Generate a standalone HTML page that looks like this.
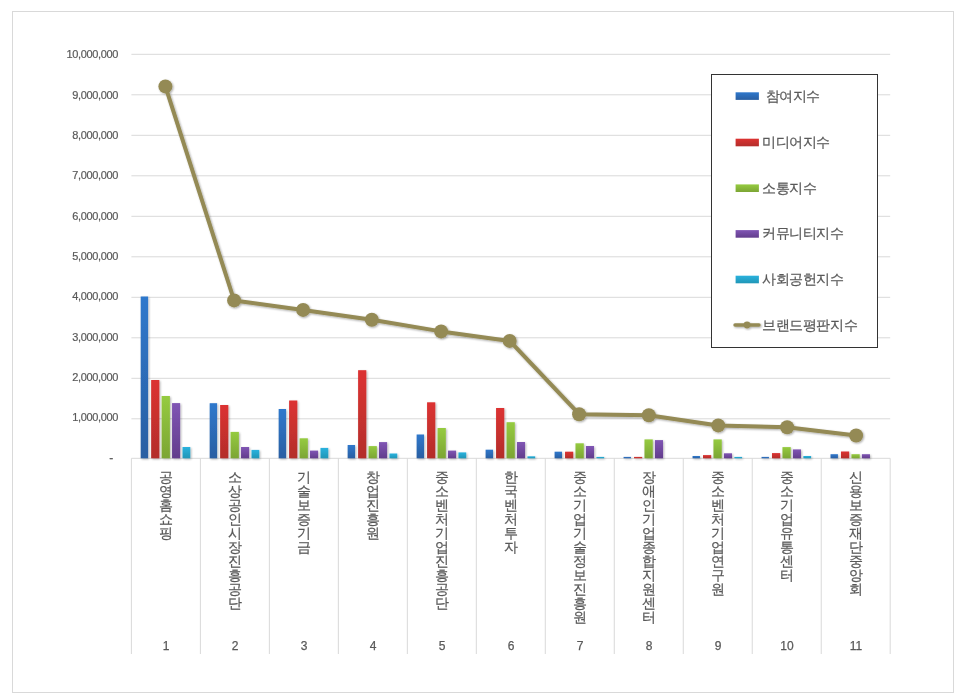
<!DOCTYPE html>
<html><head><meta charset="utf-8"><title>chart</title>
<style>
html,body{margin:0;padding:0;background:#fff;}
body{width:966px;height:700px;position:relative;overflow:hidden;font-family:"Liberation Sans",sans-serif;color:#595959;}
#c{position:absolute;left:0;top:0;}
.yl{position:absolute;right:848px;width:80px;text-align:right;font-size:11px;line-height:12px;letter-spacing:-0.36px;white-space:nowrap;will-change:transform;-webkit-text-stroke:0.2px #595959;}
.vt{position:absolute;width:16px;text-align:center;font-size:14.2px;line-height:14px;word-break:break-all;top:469.6px;will-change:transform;-webkit-text-stroke:0.22px #595959;}
.num{position:absolute;width:40px;text-align:center;font-size:12px;line-height:12px;top:640px;will-change:transform;-webkit-text-stroke:0.25px #595959;}
.lg{position:absolute;left:761.6px;font-size:14.3px;letter-spacing:-0.4px;line-height:18px;white-space:pre;will-change:transform;-webkit-text-stroke:0.22px #595959;}
</style></head><body>
<svg id="c" width="966" height="700" viewBox="0 0 966 700">
<defs>
<linearGradient id="g0" x1="0" y1="0" x2="0" y2="1"><stop offset="0" stop-color="#2f78cc"/><stop offset="1" stop-color="#2a5fa2"/></linearGradient>
<linearGradient id="g1" x1="0" y1="0" x2="0" y2="1"><stop offset="0" stop-color="#dc3231"/><stop offset="1" stop-color="#b32e2b"/></linearGradient>
<linearGradient id="g2" x1="0" y1="0" x2="0" y2="1"><stop offset="0" stop-color="#95cb40"/><stop offset="1" stop-color="#7ca534"/></linearGradient>
<linearGradient id="g3" x1="0" y1="0" x2="0" y2="1"><stop offset="0" stop-color="#8055b4"/><stop offset="1" stop-color="#623d8c"/></linearGradient>
<linearGradient id="g4" x1="0" y1="0" x2="0" y2="1"><stop offset="0" stop-color="#2ab2de"/><stop offset="1" stop-color="#2096b6"/></linearGradient>
<filter id="sh" x="-30%" y="-30%" width="160%" height="160%"><feGaussianBlur in="SourceAlpha" stdDeviation="1.2"/><feOffset dx="0.6" dy="1"/><feComponentTransfer><feFuncA type="linear" slope="0.35"/></feComponentTransfer><feMerge><feMergeNode/><feMergeNode in="SourceGraphic"/></feMerge></filter>
<filter id="bs" x="-50%" y="-10%" width="200%" height="120%"><feGaussianBlur in="SourceAlpha" stdDeviation="0.9"/><feOffset dx="0.5" dy="0.5"/><feComponentTransfer><feFuncA type="linear" slope="0.3"/></feComponentTransfer><feMerge><feMergeNode/><feMergeNode in="SourceGraphic"/></feMerge></filter>
</defs>
<rect x="12.5" y="11.5" width="941" height="681" fill="#fff" stroke="#d9d9d9" stroke-width="1"/>
<line x1="131.4" x2="890.2" y1="54.30" y2="54.30" stroke="#d9d9d9" stroke-width="1"/>
<line x1="131.4" x2="890.2" y1="94.80" y2="94.80" stroke="#d9d9d9" stroke-width="1"/>
<line x1="131.4" x2="890.2" y1="135.30" y2="135.30" stroke="#d9d9d9" stroke-width="1"/>
<line x1="131.4" x2="890.2" y1="175.80" y2="175.80" stroke="#d9d9d9" stroke-width="1"/>
<line x1="131.4" x2="890.2" y1="216.30" y2="216.30" stroke="#d9d9d9" stroke-width="1"/>
<line x1="131.4" x2="890.2" y1="256.80" y2="256.80" stroke="#d9d9d9" stroke-width="1"/>
<line x1="131.4" x2="890.2" y1="297.30" y2="297.30" stroke="#d9d9d9" stroke-width="1"/>
<line x1="131.4" x2="890.2" y1="337.80" y2="337.80" stroke="#d9d9d9" stroke-width="1"/>
<line x1="131.4" x2="890.2" y1="378.30" y2="378.30" stroke="#d9d9d9" stroke-width="1"/>
<line x1="131.4" x2="890.2" y1="418.80" y2="418.80" stroke="#d9d9d9" stroke-width="1"/>
<line x1="131.4" x2="890.2" y1="458.30" y2="458.30" stroke="#d9d9d9" stroke-width="1"/>
<line x1="131.40" x2="131.40" y1="458.3" y2="654" stroke="#d9d9d9" stroke-width="1"/>
<line x1="200.38" x2="200.38" y1="458.3" y2="654" stroke="#d9d9d9" stroke-width="1"/>
<line x1="269.36" x2="269.36" y1="458.3" y2="654" stroke="#d9d9d9" stroke-width="1"/>
<line x1="338.35" x2="338.35" y1="458.3" y2="654" stroke="#d9d9d9" stroke-width="1"/>
<line x1="407.33" x2="407.33" y1="458.3" y2="654" stroke="#d9d9d9" stroke-width="1"/>
<line x1="476.31" x2="476.31" y1="458.3" y2="654" stroke="#d9d9d9" stroke-width="1"/>
<line x1="545.29" x2="545.29" y1="458.3" y2="654" stroke="#d9d9d9" stroke-width="1"/>
<line x1="614.27" x2="614.27" y1="458.3" y2="654" stroke="#d9d9d9" stroke-width="1"/>
<line x1="683.25" x2="683.25" y1="458.3" y2="654" stroke="#d9d9d9" stroke-width="1"/>
<line x1="752.24" x2="752.24" y1="458.3" y2="654" stroke="#d9d9d9" stroke-width="1"/>
<line x1="821.22" x2="821.22" y1="458.3" y2="654" stroke="#d9d9d9" stroke-width="1"/>
<line x1="890.20" x2="890.20" y1="458.3" y2="654" stroke="#d9d9d9" stroke-width="1"/>
<g filter="url(#bs)">
<rect x="140.70" y="296.5" width="7.4" height="161.8" fill="url(#g0)"/>
<rect x="151.15" y="380.0" width="8.2" height="78.3" fill="url(#g1)"/>
<rect x="161.60" y="396.0" width="8.3" height="62.3" fill="url(#g2)"/>
<rect x="172.05" y="403.1" width="8.1" height="55.2" fill="url(#g3)"/>
<rect x="182.50" y="447.0" width="7.8" height="11.3" fill="url(#g4)"/>
<rect x="209.68" y="403.2" width="7.4" height="55.1" fill="url(#g0)"/>
<rect x="220.13" y="405.0" width="8.2" height="53.3" fill="url(#g1)"/>
<rect x="230.58" y="431.9" width="8.3" height="26.4" fill="url(#g2)"/>
<rect x="241.03" y="447.0" width="8.1" height="11.3" fill="url(#g3)"/>
<rect x="251.48" y="449.9" width="7.8" height="8.4" fill="url(#g4)"/>
<rect x="278.66" y="409.0" width="7.4" height="49.3" fill="url(#g0)"/>
<rect x="289.11" y="400.5" width="8.2" height="57.8" fill="url(#g1)"/>
<rect x="299.56" y="438.3" width="8.3" height="20.0" fill="url(#g2)"/>
<rect x="310.01" y="450.6" width="8.1" height="7.7" fill="url(#g3)"/>
<rect x="320.46" y="447.9" width="7.8" height="10.4" fill="url(#g4)"/>
<rect x="347.65" y="445.0" width="7.4" height="13.3" fill="url(#g0)"/>
<rect x="358.10" y="370.2" width="8.2" height="88.1" fill="url(#g1)"/>
<rect x="368.55" y="446.1" width="8.3" height="12.2" fill="url(#g2)"/>
<rect x="379.00" y="442.1" width="8.1" height="16.2" fill="url(#g3)"/>
<rect x="389.45" y="453.5" width="7.8" height="4.8" fill="url(#g4)"/>
<rect x="416.63" y="434.5" width="7.4" height="23.8" fill="url(#g0)"/>
<rect x="427.08" y="402.3" width="8.2" height="56.0" fill="url(#g1)"/>
<rect x="437.53" y="428.0" width="8.3" height="30.3" fill="url(#g2)"/>
<rect x="447.98" y="450.6" width="8.1" height="7.7" fill="url(#g3)"/>
<rect x="458.43" y="452.4" width="7.8" height="5.9" fill="url(#g4)"/>
<rect x="485.61" y="449.7" width="7.4" height="8.6" fill="url(#g0)"/>
<rect x="496.06" y="408.0" width="8.2" height="50.3" fill="url(#g1)"/>
<rect x="506.51" y="422.2" width="8.3" height="36.1" fill="url(#g2)"/>
<rect x="516.96" y="442.0" width="8.1" height="16.3" fill="url(#g3)"/>
<rect x="527.41" y="456.3" width="7.8" height="2.0" fill="url(#g4)"/>
<rect x="554.59" y="451.7" width="7.4" height="6.6" fill="url(#g0)"/>
<rect x="565.04" y="451.7" width="8.2" height="6.6" fill="url(#g1)"/>
<rect x="575.49" y="443.3" width="8.3" height="15.0" fill="url(#g2)"/>
<rect x="585.94" y="446.0" width="8.1" height="12.3" fill="url(#g3)"/>
<rect x="596.39" y="456.9" width="7.8" height="1.4" fill="url(#g4)"/>
<rect x="623.57" y="456.9" width="7.4" height="1.4" fill="url(#g0)"/>
<rect x="634.02" y="456.9" width="8.2" height="1.4" fill="url(#g1)"/>
<rect x="644.47" y="439.4" width="8.3" height="18.9" fill="url(#g2)"/>
<rect x="654.92" y="440.1" width="8.1" height="18.2" fill="url(#g3)"/>
<rect x="692.55" y="456.0" width="7.4" height="2.3" fill="url(#g0)"/>
<rect x="703.00" y="455.1" width="8.2" height="3.2" fill="url(#g1)"/>
<rect x="713.45" y="439.4" width="8.3" height="18.9" fill="url(#g2)"/>
<rect x="723.90" y="453.3" width="8.1" height="5.0" fill="url(#g3)"/>
<rect x="734.35" y="456.9" width="7.8" height="1.4" fill="url(#g4)"/>
<rect x="761.54" y="456.9" width="7.4" height="1.4" fill="url(#g0)"/>
<rect x="771.99" y="453.1" width="8.2" height="5.2" fill="url(#g1)"/>
<rect x="782.44" y="447.1" width="8.3" height="11.2" fill="url(#g2)"/>
<rect x="792.89" y="449.4" width="8.1" height="8.9" fill="url(#g3)"/>
<rect x="803.34" y="456.0" width="7.8" height="2.3" fill="url(#g4)"/>
<rect x="830.52" y="454.2" width="7.4" height="4.1" fill="url(#g0)"/>
<rect x="840.97" y="451.5" width="8.2" height="6.8" fill="url(#g1)"/>
<rect x="851.42" y="454.2" width="8.3" height="4.1" fill="url(#g2)"/>
<rect x="861.87" y="454.2" width="8.1" height="4.1" fill="url(#g3)"/>
</g>
<g filter="url(#sh)">
<polyline points="165.4,86.4 234.1,300.4 303.1,309.9 371.8,319.8 441.1,331.4 509.7,340.9 579.1,414.2 648.8,415.3 718.2,425.4 787.1,427.3 856.1,435.5" fill="none" stroke="#948a54" stroke-width="4" stroke-linejoin="round" stroke-linecap="round"/>
<circle cx="165.4" cy="86.4" r="7" fill="#948a54"/>
<circle cx="234.1" cy="300.4" r="7" fill="#948a54"/>
<circle cx="303.1" cy="309.9" r="7" fill="#948a54"/>
<circle cx="371.8" cy="319.8" r="7" fill="#948a54"/>
<circle cx="441.1" cy="331.4" r="7" fill="#948a54"/>
<circle cx="509.7" cy="340.9" r="7" fill="#948a54"/>
<circle cx="579.1" cy="414.2" r="7" fill="#948a54"/>
<circle cx="648.8" cy="415.3" r="7" fill="#948a54"/>
<circle cx="718.2" cy="425.4" r="7" fill="#948a54"/>
<circle cx="787.1" cy="427.3" r="7" fill="#948a54"/>
<circle cx="856.1" cy="435.5" r="7" fill="#948a54"/>
</g>
<rect x="711.5" y="74.5" width="166" height="273" fill="#fff" stroke="#333" stroke-width="1"/>
<rect x="735.6" y="92.3" width="23.3" height="7.6" fill="url(#g0)"/>
<rect x="735.6" y="138.7" width="23.3" height="7.6" fill="url(#g1)"/>
<rect x="735.6" y="184.4" width="23.3" height="7.6" fill="url(#g2)"/>
<rect x="735.6" y="230.1" width="23.3" height="7.6" fill="url(#g3)"/>
<rect x="735.6" y="275.7" width="23.3" height="7.6" fill="url(#g4)"/>
<g filter="url(#sh)"><line x1="735" x2="759" y1="325.0" y2="325.0" stroke="#948a54" stroke-width="3.4" stroke-linecap="round"/><circle cx="747" cy="325.0" r="3.4" fill="#948a54"/></g>
</svg>
<div class="yl" style="top:48.1px">10,000,000</div>
<div class="yl" style="top:88.5px">9,000,000</div>
<div class="yl" style="top:128.8px">8,000,000</div>
<div class="yl" style="top:169.2px">7,000,000</div>
<div class="yl" style="top:209.5px">6,000,000</div>
<div class="yl" style="top:249.9px">5,000,000</div>
<div class="yl" style="top:290.3px">4,000,000</div>
<div class="yl" style="top:330.6px">3,000,000</div>
<div class="yl" style="top:371.0px">2,000,000</div>
<div class="yl" style="top:411.3px">1,000,000</div>
<div class="yl" style="top:451.9px;right:852.6px;font-size:12px">-</div>
<div class="vt" style="left:157.9px">공영홈쇼핑</div>
<div class="num" style="left:145.9px">1</div>
<div class="vt" style="left:226.9px">소상공인시장진흥공단</div>
<div class="num" style="left:214.9px">2</div>
<div class="vt" style="left:295.9px">기술보증기금</div>
<div class="num" style="left:283.9px">3</div>
<div class="vt" style="left:364.8px">창업진흥원</div>
<div class="num" style="left:352.8px">4</div>
<div class="vt" style="left:433.8px">중소벤처기업진흥공단</div>
<div class="num" style="left:421.8px">5</div>
<div class="vt" style="left:502.8px">한국벤처투자</div>
<div class="num" style="left:490.8px">6</div>
<div class="vt" style="left:571.8px">중소기업기술정보진흥원</div>
<div class="num" style="left:559.8px">7</div>
<div class="vt" style="left:640.8px">장애인기업종합지원센터</div>
<div class="num" style="left:628.8px">8</div>
<div class="vt" style="left:709.7px">중소벤처기업연구원</div>
<div class="num" style="left:697.7px">9</div>
<div class="vt" style="left:778.7px">중소기업유통센터</div>
<div class="num" style="left:766.7px">10</div>
<div class="vt" style="left:847.7px">신용보증재단중앙회</div>
<div class="num" style="left:835.7px">11</div>
<div class="lg" style="top:86.6px"> 참여지수</div>
<div class="lg" style="top:133.0px">미디어지수</div>
<div class="lg" style="top:178.7px">소통지수</div>
<div class="lg" style="top:224.4px">커뮤니티지수</div>
<div class="lg" style="top:270.0px">사회공헌지수</div>
<div class="lg" style="top:315.5px">브랜드평판지수</div>
</body></html>
